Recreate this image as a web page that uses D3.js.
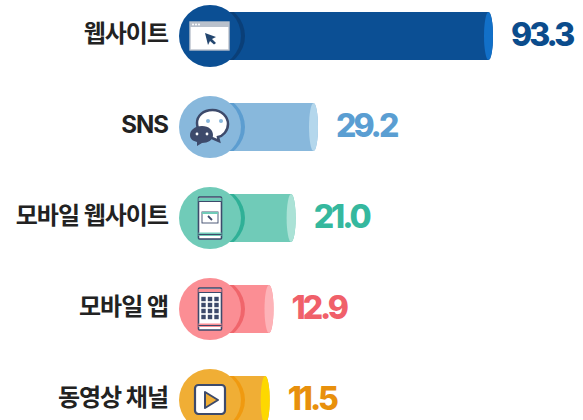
<!DOCTYPE html>
<html><head><meta charset="utf-8">
<script src="https://cdn.jsdelivr.net/npm/d3@7"></script>
<style>html,body{margin:0;padding:0;background:#fff;overflow:hidden}svg{display:block}</style>
</head><body><div id="c"></div>
<script>
const categories = ["웹사이트","SNS","모바일 웹사이트","모바일 앱","동영상 채널"];
const values = [93.3,29.2,21.0,12.9,11.5];
const barColors = ["#0b4f94","#88b8dc","#70cbb8","#fb8e94","#f0ae35"];
const capColors = ["#1270c8","#b4d7ec","#abe2d6","#fdb3b8","#fdd800"];
const ringColors = ["#0a3f78","#5c9dd0","#2fb097","#f0656b","#f09a10"];
const valueColors = ["#0b4c8c","#5a9ed2","#35b89e","#f0606a","#e8900c"];
const icons = ["browser","chat","mobileweb","mobileapp","video"];
const W=583,H=420;
const svg=d3.select("#c").append("svg").attr("width",W).attr("height",H);
const x=d3.scaleLinear().domain([0,93.3]).range([238.3,493]);
const y=d3.scalePoint().domain(categories).range([36,400]);
const barH=48, r=31, cx=210, capRx=4.5;
const navy="#3d4a6b";
svg.append("clipPath").attr("id","barclip").append("rect").attr("x",cx).attr("y",-barH/2).attr("width",60).attr("height",barH);
const rows=svg.selectAll("g.row").data(categories.map((c,i)=>({c,v:values[i],i}))).join("g")
  .attr("class","row").attr("transform",d=>`translate(0,${y(d.c)})`);
rows.append("path").attr("fill",d=>barColors[d.i])
  .attr("d",d=>`M${cx},${-barH/2}H${x(d.v)-capRx}A${capRx},${barH/2} 0 0 1 ${x(d.v)-capRx},${barH/2}H${cx}Z`);
rows.append("ellipse").attr("cx",d=>x(d.v)-capRx).attr("cy",0).attr("rx",capRx).attr("ry",barH/2).attr("fill",d=>capColors[d.i]);
rows.append("circle").attr("cx",cx+4).attr("cy",0).attr("r",r).attr("fill",d=>ringColors[d.i]).attr("clip-path","url(#barclip)");
rows.append("circle").attr("cx",cx).attr("cy",0).attr("r",r).attr("fill",d=>barColors[d.i]);
rows.append("text").attr("x",168).attr("y",-3).attr("dy","0.36em").attr("text-anchor","end")
  .attr("font-family","Inter,'Noto Sans CJK KR'").attr("font-weight",700).attr("font-size",24).attr("letter-spacing",-1)
  .attr("fill","#222").text(d=>d.c);
rows.append("text").attr("x",d=>x(d.v)+18).attr("y",-1.5).attr("dy","0.36em")
  .attr("font-family","Inter").attr("font-weight",800).attr("font-size",32).attr("letter-spacing",-3)
  .attr("fill",d=>valueColors[d.i]).text(d=>d.v.toFixed(1));
const draw={
 browser(g){
  g.append("rect").attr("x",-20).attr("y",-14).attr("width",39).attr("height",28).attr("fill","#fff").attr("stroke","#b9c1cc").attr("stroke-width",1.4);
  g.append("rect").attr("x",-20).attr("y",-14).attr("width",39).attr("height",5).attr("fill","#b9c1cc");
  g.selectAll("circle").data([-17,-14,-11]).join("circle").attr("cx",d=>d).attr("cy",-11.5).attr("r",1).attr("fill","#fff");
  g.append("path").attr("d","M-5,-3L6,1L2,3L6,7L4,8.5L0,5L-2,9Z").attr("fill","#23466f");
 },
 chat(g){
  g.append("path").attr("d","M2.5,-17C12,-17 18,-10 18,-3C18,4 13,9 8,10L9,14L2,11C-8,10 -13,3 -13,-4C-13,-11 -7,-17 2.5,-17Z").attr("fill","#fff").attr("stroke",navy).attr("stroke-width",2.5);
  g.append("circle").attr("cx",-2).attr("cy",-6).attr("r",2).attr("fill","#88b8dc");
  g.append("circle").attr("cx",11).attr("cy",-6).attr("r",2).attr("fill","#88b8dc");
  g.append("path").attr("d","M-8,-1C-1,-1 3,3 3,8C3,13 -2,16 -8,16L-13,19L-13,15C-17,14 -20,12 -20,8C-20,3 -15,-1 -8,-1Z").attr("fill",navy);
  g.selectAll("circle.e").data([-13,-3]).join("circle").attr("class","e").attr("cx",d=>d).attr("cy",7).attr("r",1.4).attr("fill","#fff");
 },
 phone(g,top){
  g.append("rect").attr("x",-11.5).attr("y",-21).attr("width",23).attr("height",42).attr("rx",1).attr("fill","#fff").attr("stroke",navy).attr("stroke-width",1.6);
  g.append("rect").attr("x",-11.5).attr("y",-20).attr("width",23).attr("height",3.5).attr("fill",top);
  g.append("rect").attr("x",-11.5).attr("y",14.5).attr("width",23).attr("height",3.5).attr("fill",top);
  g.append("path").attr("d","M-11.5,-16.5H11.5M-11.5,16.5H11.5").attr("stroke",navy).attr("stroke-width",1.2);
 },
 mobileweb(g){
  draw.phone(g,"#70cbb8");
  g.append("rect").attr("x",-8).attr("y",-6).attr("width",16).attr("height",11).attr("fill","#fff").attr("stroke",navy).attr("stroke-width",0.9);
  g.append("rect").attr("x",-8).attr("y",-6).attr("width",16).attr("height",2).attr("fill","#70cbb8");
  g.append("path").attr("d","M-2,-2L2,2").attr("stroke",navy).attr("stroke-width",1.8);
 },
 mobileapp(g){
  draw.phone(g,"#fb8e94");
  const pos=[-6.5,0,6.5], rowsY=[-10,-4,2,8];
  rowsY.forEach(yy=>pos.forEach(xx=>g.append("rect").attr("x",xx-2.2).attr("y",yy-2.2).attr("width",4.4).attr("height",4.4).attr("fill",navy)));
 },
 video(g){
  g.append("rect").attr("x",-15).attr("y",-15).attr("width",30).attr("height",29).attr("rx",3.5).attr("fill","#fff").attr("stroke",navy).attr("stroke-width",2.2);
  g.append("path").attr("d","M-5,-8L8,0L-5,8Z").attr("fill","#f0ae35").attr("stroke",navy).attr("stroke-width",2).attr("stroke-linejoin","round");
 }
};
rows.each(function(d){
  const g=d3.select(this).append("g").attr("transform",`translate(${cx},0)`);
  draw[icons[d.i]](g);
});
</script></body></html>
